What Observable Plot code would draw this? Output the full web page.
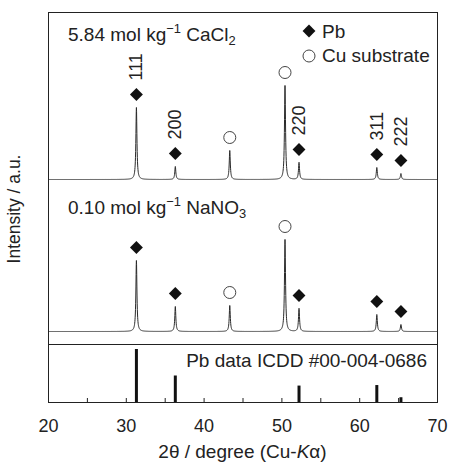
<!DOCTYPE html>
<html><head><meta charset="utf-8">
<script src="https://cdn.jsdelivr.net/npm/d3@7"></script>
<script src="https://cdn.jsdelivr.net/npm/@observablehq/plot@0.6"></script>
<style>
body{margin:0;background:#fff}
svg{font-family:"Liberation Sans",Arial,Helvetica,sans-serif}
</style>
</head><body><div id="chart"></div>
<script>
// ---- data ----
const positions = [31.3, 36.3, 43.3, 50.4, 52.2, 62.2, 65.3];      // 2θ of peaks
const phases = ["Pb", "Pb", "Cu", "Cu", "Pb", "Pb", "Pb"];
const hklLabels = ["111", "200", "", "", "220", "311", "222"];
const intensityCaCl2 = [72, 13, 29, 94, 17, 12, 6];                  // a.u.
const intensityNaNO3 = [71, 25, 26, 92, 23, 17, 7];                  // a.u.
const icddPositions = [31.3, 36.3, 52.2, 62.2, 65.3];
const icddIntensity = [100, 50, 31, 32, 9];                          // relative %
const xTicks = [20, 30, 40, 50, 60, 70];
const xMinorTicks = [25, 35, 45, 55, 65];

// ---- layout (vertical panel offsets in y units) ----
const baseTop = 223, baseMid = 71, divider = 58, icddScale = 0.53;
const markerGap = 13, labelGap = 14, hw = 0.08;
const FS = 19, FT = 18;

function profile(ints, base) {
  return d3.range(20, 70.0001, 0.02).map(x => ({
    x, y: base + d3.sum(positions, (p, i) => ints[i] / (1 + ((x - p) / hw) ** 2))
  }));
}
function peaks(ints, base) {
  return positions.map((p, i) => ({x: p, top: base + ints[i], phase: phases[i], hkl: hklLabels[i]}));
}
const topPeaks = peaks(intensityCaCl2, baseTop);
const midPeaks = peaks(intensityNaNO3, baseMid);
const allPeaks = topPeaks.concat(midPeaks);
const icdd = icddPositions.map((p, i) => ({x: p, y: icddIntensity[i] * icddScale}));

const plot = Plot.plot({
  width: 449, height: 463,
  marginLeft: 48, marginRight: 12, marginTop: 12, marginBottom: 61,
  style: {fontSize: FT + "px", fontFamily: '"Liberation Sans",Arial,sans-serif', color: "#222"},
  x: {domain: [20, 70]},
  y: {domain: [0, 390], axis: null},
  marks: [
    Plot.axisX({ticks: xTicks, tickSize: -4, tickPadding: 21, label: null, fontSize: FT, stroke: "#222"}),
    Plot.axisX({ticks: xMinorTicks, tickSize: -4, text: null, label: null, stroke: "#222"}),
    Plot.line(profile(intensityCaCl2, baseTop), {x: "x", y: "y", stroke: "#2a2a2a", strokeWidth: 1}),
    Plot.line(profile(intensityNaNO3, baseMid), {x: "x", y: "y", stroke: "#2a2a2a", strokeWidth: 1}),
    Plot.ruleY([divider], {stroke: "#222"}),
    Plot.ruleX(icdd, {x: "x", y1: 0, y2: "y", stroke: "#111", strokeWidth: 3}),
    Plot.dot(allPeaks.filter(d => d.phase === "Pb"), {x: "x", y: d => d.top + markerGap, symbol: "diamond2", r: 5.8, fill: "#111", stroke: "none"}),
    Plot.dot(allPeaks.filter(d => d.phase === "Cu"), {x: "x", y: d => d.top + markerGap, symbol: "circle", r: 6, fill: "white", stroke: "#444", strokeWidth: 1}),
    Plot.text(topPeaks.filter(d => d.hkl), {x: "x", y: d => d.top + markerGap + labelGap, text: "hkl", rotate: -90, textAnchor: "start", fontSize: FT, fill: "#222"}),
    Plot.frame({stroke: "#222"})
  ]
});

const svg = d3.select(plot);
function label(x, y, parts, anchor = "start", rotate = 0, size = FS) {
  const t = svg.append("text").attr("font-size", size).attr("fill", "#222").attr("text-anchor", anchor)
    .attr("transform", `translate(${x},${y})` + (rotate ? ` rotate(${rotate})` : ""));
  for (const p of parts) {
    const s = t.append("tspan").text(p.t);
    if (p.sup) s.attr("font-size", size * 0.68).attr("dy", -8);
    if (p.sub) s.attr("font-size", size * 0.68).attr("dy", 4);
    if (p.back) s.attr("dy", p.back);
    if (p.it) s.attr("font-style", "italic");
  }
  return t;
}
label(68, 41, [{t: "5.84 mol kg"}, {t: "−1", sup: true}, {t: " CaCl", back: 8}, {t: "2", sub: true}]);
label(68, 214, [{t: "0.10 mol kg"}, {t: "−1", sup: true}, {t: " NaNO", back: 8}, {t: "3", sub: true}]);
// legend
svg.append("path").attr("d", d3.symbol(d3.symbolDiamond2, Math.PI * 5.8 * 5.8)()).attr("transform", "translate(309,31)").attr("fill", "#111");
svg.append("circle").attr("cx", 309).attr("cy", 56).attr("r", 6).attr("fill", "white").attr("stroke", "#444");
label(322, 38, [{t: "Pb"}]);
label(322, 62, [{t: "Cu substrate"}]);
label(427, 367, [{t: "Pb data ICDD #00-004-0686"}], "end");
label(20, 209, [{t: "Intensity / a.u."}], "middle", -90, 17.5);
label(242.5, 458, [{t: "2θ / degree (Cu-"}, {t: "K", it: true}, {t: "α)"}], "middle");

document.getElementById("chart").appendChild(plot);
</script>
</body></html>
